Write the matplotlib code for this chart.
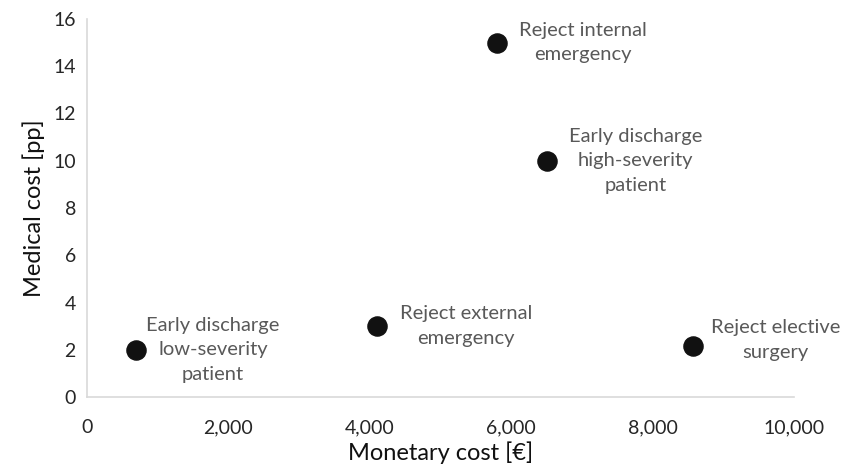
import matplotlib
matplotlib.use("Agg")
import matplotlib.pyplot as plt
from matplotlib.ticker import FuncFormatter, MultipleLocator

plt.rcParams['font.family'] = ['Lato', 'DejaVu Sans']

labels = ["Early discharge\nlow-severity\npatient",
          "Reject external\nemergency",
          "Reject internal\nemergency",
          "Early discharge\nhigh-severity\npatient",
          "Reject elective\nsurgery"]
monetary_cost = [700, 4100, 5800, 6500, 8570]
medical_cost = [2.0, 3.0, 15.0, 10.0, 2.15]

# label offsets (pixels) to the right of each point
label_dx = [10, 23, 22, 22, 18]
label_dy = [0, 0, 0, 0, 6]

fig = plt.figure(figsize=(8.51, 4.69), dpi=100)
ax = fig.add_axes([87/851, 72/469, (794-87)/851, (397-19)/469])

ax.scatter(monetary_cost, medical_cost, s=190, color='#111111', zorder=3)
for x, y, t, dx, dy in zip(monetary_cost, medical_cost, labels, label_dx, label_dy):
    ax.annotate(t, (x, y), xytext=(dx*0.72, dy*0.72), textcoords='offset points',
                ha='left', va='center', multialignment='center',
                fontsize=14.5, color='#595959', linespacing=1.55)

ax.set_xlim(0, 10000)
ax.set_ylim(0, 16)
ax.xaxis.set_major_locator(MultipleLocator(2000))
ax.yaxis.set_major_locator(MultipleLocator(2))
ax.xaxis.set_major_formatter(FuncFormatter(lambda v, p: f"{int(v):,}"))
for s in ['top', 'right']:
    ax.spines[s].set_visible(False)
for s in ['left', 'bottom']:
    ax.spines[s].set_color('#d9d9d9')
    ax.spines[s].set_linewidth(1.2)
ax.tick_params(length=0, labelsize=14, colors='#262626', pad=8)
ax.tick_params(axis='x', pad=16)
ax.set_xlabel("Monetary cost [€]", fontsize=17, color='#111111', labelpad=4)
ax.set_ylabel("Medical cost [pp]", fontsize=17, color='#111111', labelpad=6)

fig.savefig("out.png", dpi=100)
